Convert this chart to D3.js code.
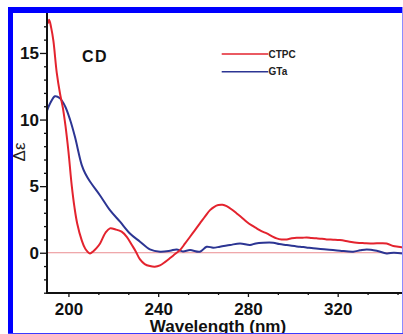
<!DOCTYPE html>
<html>
<head>
<meta charset="utf-8">
<script src="https://cdn.jsdelivr.net/npm/d3@7"></script>
<style>
  body { margin: 0; background: #fff; }
  svg { display: block; }
  text { font-family: "Liberation Sans", Arial, sans-serif; }
</style>
</head>
<body>
<svg id="chart" width="403" height="334"></svg>
<script>
// series (wavelength nm, delta epsilon)
var ctpc = [[190.8,17.2],[191.4,17.5],[192.3,16.9],[193.3,15.9],[194.8,13.5],[196.3,11.9],[197.5,10.9],
  [198.7,9.5],[200,7.6],[201.5,5.0],[202.7,3.4],[203.9,2.2],[205.9,0.95],[207.5,0.3],[209.6,-0.05],[211,0.1],
  [212.5,0.35],[214.1,0.7],[216.5,1.5],[218.5,1.83],[221,1.75],[223.7,1.58],[226,1.2],[228.2,0.6],[230,0.1],
  [231.9,-0.5],[234,-0.85],[236.3,-1.0],[238.5,-1.05],[240.8,-0.95],[243,-0.7],[245.3,-0.4],[247.5,-0.1],
  [249.7,0.2],[252,0.7],[254.2,1.2],[256.4,1.7],[258.6,2.2],[261,2.75],[263.1,3.2],[265,3.45],[266.8,3.58],
  [268.7,3.6],[270.5,3.5],[272.8,3.25],[275,2.95],[277.2,2.65],[279.4,2.33],[281.7,2.05],[283.9,1.83],
  [286,1.62],[288.4,1.45],[290.6,1.25],[292.8,1.08],[295,1.0],[297.3,1.0],[299.5,1.08],[301.7,1.13],
  [304,1.12],[306.2,1.15],[308.4,1.1],[310.6,1.08],[313,1.05],[315.1,1.0],[318,0.98],[321,0.95],
  [324.8,0.85],[328.5,0.75],[332,0.72],[335.9,0.7],[339,0.72],[341.8,0.7],[344.8,0.5],[347,0.45],[349.1,0.4]];

var gta = [[190.3,10.6],[191.8,11.2],[194,11.75],[196.2,11.6],[198.5,11.0],[200.7,10.0],[202.9,8.7],
  [205.9,6.6],[207.5,5.95],[209.6,5.35],[214.1,4.3],[218.5,3.2],[223,2.33],[227.4,1.45],[231.9,0.83],[236.3,0.25],
  [240.8,0.08],[245.3,0.15],[248.2,0.25],[251,0.1],[254.2,0.2],[258.6,0.08],[261.6,0.45],[264.5,0.38],
  [267.5,0.45],[272,0.58],[276.5,0.7],[280.9,0.58],[283.5,0.7],[286.8,0.75],[291.3,0.75],[294,0.65],
  [297.3,0.58],[303.2,0.45],[306,0.4],[309.1,0.33],[315.1,0.25],[321,0.15],[326.9,0.08],[330,0.18],
  [332.9,0.25],[337.4,0.15],[341.8,-0.05],[345,0.0],[349.1,-0.05]];

var xTicks = [200, 240, 280, 320];
var xMinor = [213.33, 226.67, 253.33, 266.67, 293.33, 306.67, 333.33, 346.67];
var yTicks = [0, 5, 10, 15];
var yMinor = [-3, -2, -1, 1, 2, 3, 4, 6, 7, 8, 9, 11, 12, 13, 14, 16, 17];
var legendLabels = ["CTPC", "GTa"];
var colors = ["#e3232e", "#2c3593"];

var svg = d3.select('#chart');
var x = d3.scaleLinear().domain([190, 350]).range([46, 405]);
var y = d3.scaleLinear().domain([-3, 18]).range([292.7, 13]);

svg.append('defs').append('clipPath').attr('id', 'plot')
  .append('rect').attr('x', 47).attr('y', 13).attr('width', 356).attr('height', 280);

// zero line
svg.append('line')
  .attr('x1', 47).attr('x2', 403).attr('y1', y(0)).attr('y2', y(0))
  .style('stroke', '#eb8e92').style('stroke-width', 1);

var line = d3.line()
  .x(function(d) { return x(d[0]); })
  .y(function(d) { return y(d[1]); })
  .curve(d3.curveCatmullRom);

var g = svg.append('g').attr('clip-path', 'url(#plot)');
[gta, ctpc].forEach(function(s, i) {
  g.append('path').datum(s).attr('d', line)
    .style('fill', 'none').style('stroke', i ? colors[0] : colors[1])
    .style('stroke-width', 2).style('stroke-linejoin', 'round');
});

// axes
var fmt = function(ax) {
  ax.select('.domain').remove();
  ax.selectAll('line').style('stroke', '#111').style('stroke-width', 1.3);
  ax.selectAll('text').style('font-size', '17px').style('font-weight', 'bold').style('fill', '#111');
};
svg.append('g').attr('transform', 'translate(0,293)')
  .call(d3.axisBottom(x).tickValues(xTicks).tickSize(4).tickPadding(6)).call(fmt);
svg.append('g').attr('transform', 'translate(0,293)')
  .call(d3.axisBottom(x).tickValues(xMinor).tickSize(2).tickFormat('')).call(fmt);
svg.append('g').attr('transform', 'translate(47,0)')
  .call(d3.axisLeft(y).tickValues(yTicks).tickSize(7).tickPadding(1)).call(fmt);
svg.append('g').attr('transform', 'translate(47,0)')
  .call(d3.axisLeft(y).tickValues(yMinor).tickSize(3).tickFormat('')).call(fmt);

svg.append('line').attr('x1', 47).attr('x2', 47).attr('y1', 13).attr('y2', 294)
  .style('stroke', '#111').style('stroke-width', 2);
svg.append('line').attr('x1', 46).attr('x2', 403).attr('y1', 293).attr('y2', 293)
  .style('stroke', '#111').style('stroke-width', 2);

// labels
svg.append('text').attr('x', 218).attr('y', 332).attr('text-anchor', 'middle')
  .style('font-size', '17px').style('font-weight', 'bold').style('fill', '#111')
  .text('Wavelength (nm)');
svg.append('text').attr('transform', 'translate(25,152) rotate(-90)').attr('text-anchor', 'middle')
  .style('font-size', '17px').style('fill', '#222').text('Δε');
svg.append('text').attr('x', 82).attr('y', 61.7)
  .style('font-size', '16px').style('font-weight', 'bold').style('letter-spacing', '1.5px')
  .style('fill', '#111').text('CD');

// legend
legendLabels.forEach(function(lab, i) {
  var ly = 54 + i * 17.7;
  svg.append('line').attr('x1', 221.7).attr('x2', 268.3).attr('y1', ly).attr('y2', ly)
    .style('stroke', colors[i]).style('stroke-width', 1.5);
  svg.append('text').attr('x', 268.5).attr('y', ly + 3.6)
    .style('font-size', '10px').style('font-weight', 'bold').style('fill', '#222').text(lab);
});

// frame
svg.append('rect').attr('x', 8).attr('y', 7).attr('width', 394).attr('height', 6).style('fill', '#0000ff');
svg.append('rect').attr('x', 8).attr('y', 7).attr('width', 5).attr('height', 326).style('fill', '#0000ff');
svg.append('line').attr('x1', 402.5).attr('x2', 402.5).attr('y1', 7).attr('y2', 333)
  .style('stroke', '#8c8cff').style('stroke-width', 1);
svg.append('line').attr('x1', 8).attr('x2', 403).attr('y1', 333.5).attr('y2', 333.5)
  .style('stroke', '#3a3aff').style('stroke-width', 1.2);
</script>
</body>
</html>
